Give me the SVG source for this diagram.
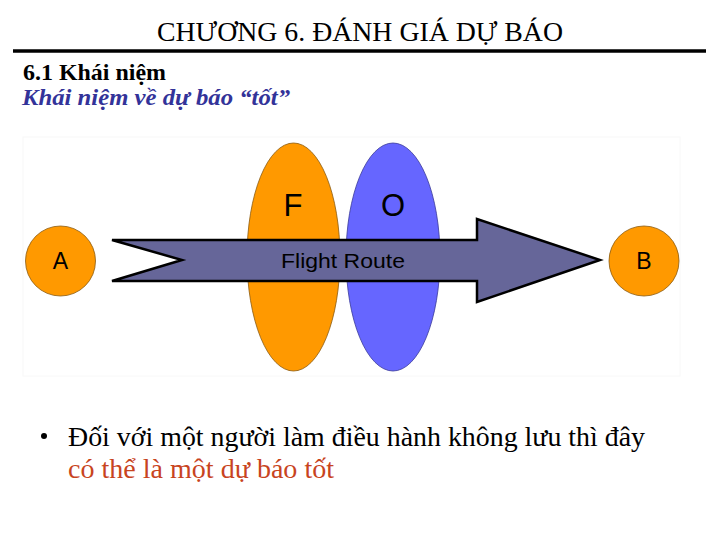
<svg xmlns="http://www.w3.org/2000/svg" width="720" height="540" viewBox="0 0 720 540">
<style>
.serif{font-family:'Liberation Serif','DejaVu Serif',serif}
.sans{font-family:'Liberation Sans',Arial,sans-serif;fill:#000}
.orange{fill:#FF9900;stroke:#8a5a10;stroke-width:0.8}
</style>
<rect width="720" height="540" fill="#fff"/>
<g id="header">
<text class="serif" x="360" y="41" font-size="27" text-anchor="middle" textLength="406" lengthAdjust="spacingAndGlyphs" fill="#000">CHƯƠNG 6. ĐÁNH GIÁ DỰ BÁO</text>
<line x1="13" y1="51" x2="706" y2="51" stroke="#000" stroke-width="3.5"/>
<text class="serif" x="23" y="80" font-size="23" font-weight="bold" textLength="143" lengthAdjust="spacingAndGlyphs" fill="#000">6.1 Khái niệm</text>
<text class="serif" x="22" y="105" font-size="24" font-weight="bold" font-style="italic" textLength="268" lengthAdjust="spacingAndGlyphs" fill="#333399">Khái niệm về dự báo “tốt”</text>
</g>
<rect id="picture-bg" x="23" y="137" width="657" height="239" fill="#fff" stroke="#f8f8f8" stroke-width="1"/>
<g id="node-F">
<ellipse class="orange" cx="293.5" cy="257" rx="46.5" ry="114"/>
<text class="sans" x="293" y="216" font-size="31" text-anchor="middle">F</text>
</g>
<g id="node-O">
<ellipse cx="393" cy="257" rx="47" ry="114" fill="#6666FF" stroke="#3a3a99" stroke-width="0.8"/>
<text class="sans" x="393" y="216" font-size="31" text-anchor="middle">O</text>
</g>
<g id="node-A">
<circle class="orange" cx="60.5" cy="261" r="35"/>
<text class="sans" x="60.5" y="269" font-size="23" text-anchor="middle">A</text>
</g>
<g id="node-B">
<circle class="orange" cx="644" cy="261" r="35"/>
<text class="sans" x="644" y="269" font-size="23" text-anchor="middle">B</text>
</g>
<g id="connectors">
<path d="M112,240 L477,240 L477,219 L600,260 L477,302 L477,281 L112,281 L182,260 Z" fill="#666699" stroke="#000" stroke-width="2.5" stroke-linejoin="miter"/>
<text class="sans" x="281" y="268" font-size="21" textLength="124" lengthAdjust="spacingAndGlyphs" fill="#111">Flight Route</text>
</g>
<g id="bullets">
<circle cx="44" cy="436" r="3" fill="#000"/>
<text class="serif" x="68" y="445.5" font-size="27" textLength="577" lengthAdjust="spacingAndGlyphs" fill="#000">Đối với một người làm điều hành không lưu thì đây</text>
<text class="serif" x="68" y="478" font-size="27" textLength="266" lengthAdjust="spacingAndGlyphs" fill="#C8441E">có thể là một dự báo tốt</text>
</g>
</svg>
